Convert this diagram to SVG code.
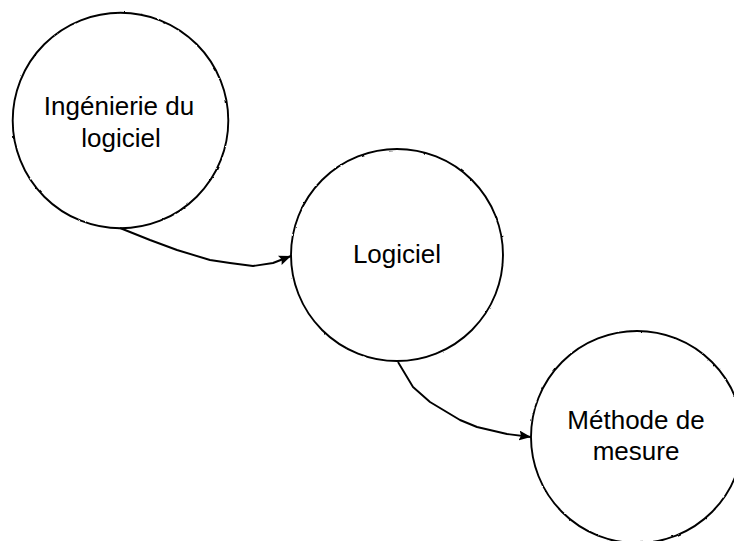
<svg xmlns="http://www.w3.org/2000/svg" width="734" height="541" viewBox="0 0 734 541">
  <style>
    .node circle { fill: #ffffff; stroke: #000000; stroke-width: 1.9; }
    .node text { font-family: "Liberation Sans", Arial, sans-serif; font-size: 26px; fill: #000000; text-anchor: middle; }
    .edge { fill: none; stroke: #000000; stroke-width: 1.9; stroke-linejoin: round; marker-end: url(#arrow); }
  </style>
  <defs>
    <marker id="arrow" viewBox="0 0 12 10" refX="12" refY="5" markerWidth="12" markerHeight="10" markerUnits="userSpaceOnUse" orient="auto">
      <path d="M0,0 L12,5 L0,10 L2,5 Z" fill="#000000"/>
    </marker>
    <!-- slight hand-drawn jitter for the circle outlines -->
    <filter id="wobble" x="-10%" y="-10%" width="120%" height="120%">
      <feTurbulence type="fractalNoise" baseFrequency="0.18" numOctaves="1" seed="7"/>
      <feDisplacementMap in="SourceGraphic" scale="2.2" xChannelSelector="R" yChannelSelector="G"/>
    </filter>
  </defs>

  <rect width="734" height="541" fill="#ffffff"/>

  <g id="node-ingenierie" class="node">
    <circle cx="120.5" cy="120.5" r="107.8" filter="url(#wobble)"/>
    <text x="119" y="115">Ingénierie du</text>
    <text x="121" y="147">logiciel</text>
  </g>

  <g id="node-logiciel" class="node">
    <circle cx="397" cy="255" r="106" filter="url(#wobble)"/>
    <text x="397" y="263">Logiciel</text>
  </g>

  <g id="node-methode" class="node">
    <circle cx="637" cy="437" r="106" filter="url(#wobble)"/>
    <text x="636" y="429">Méthode de</text>
    <text x="636" y="460">mesure</text>
  </g>

  <g id="connectors">
    <polyline class="edge" points="120,228 150,240 177,250 210,260 230,263 253,266 273,263 291,256"/>
    <polyline class="edge" points="398,362 413,387 430,402 460,420 477,427 507,434 531,437"/>
  </g>
</svg>
